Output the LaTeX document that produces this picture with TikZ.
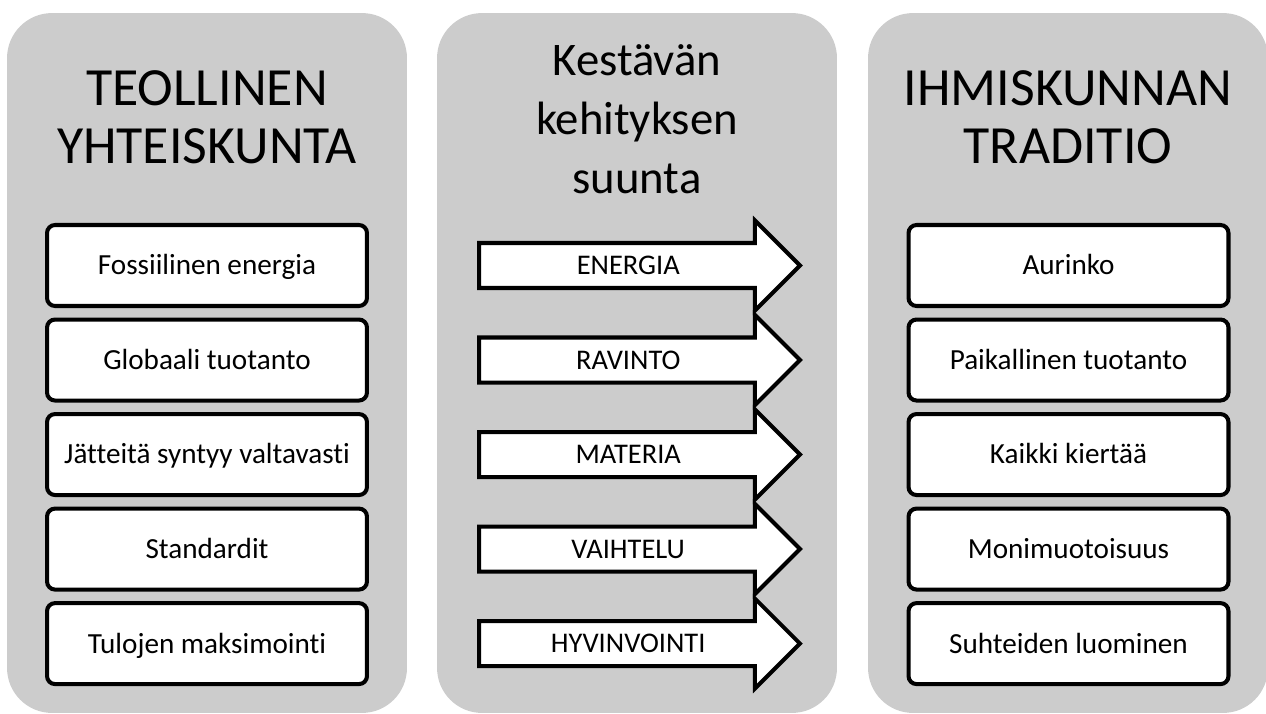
\documentclass[tikz,border=0pt]{standalone}
\usepackage{fontspec}
\setmainfont[Ligatures=NoCommon]{Carlito}
\usetikzlibrary{positioning, shapes.arrows}

\begin{document}
\begin{tikzpicture}
    [x=0.02cm, y=-0.02cm, node distance=0.19cm and 1cm,
    panel/.style={rectangle, fill=panelgray, rounded corners=0.9cm, minimum width=8cm, minimum height=14cm, inner sep=0pt},
    head/.style={align=center, anchor=base, inner sep=0pt},
    box/.style={rectangle, draw, fill=white, line width=2.3pt, rounded corners=0.16cm, minimum width=6.4cm, minimum height=1.62cm, text height=12.5pt, text depth=1.8pt, font=\fontsize{16.6}{19}\selectfont},
    dir/.style={single arrow, draw, fill=white, line width=2.3pt, single arrow head extend=0.45cm, single arrow tip angle=90, minimum height=6.42cm, text height=0.59cm, text depth=0.23cm, inner ysep=0pt, inner xsep=2pt, anchor=tail, font=\fontsize{16.2}{19}\selectfont}]
    \definecolor{panelgray}{RGB}{204,204,204};
    \useasboundingbox (0,0) rectangle (1266,713);
    % panels
    \node [panel] (Industrial) at (207,363) {};
    \node [panel] (Direction) at (637,363) {};
    \node [panel] (Tradition) at (1068,363) {};
    \node [head, font=\fontsize{30.6}{33}\selectfont] (IndTitle) at (207,163) {TEOLLINEN\\YHTEISKUNTA};
    \node [head, font=\fontsize{26.6}{33.4}\selectfont] (DirTitle) at (637,193) {Kestävän\\kehityksen\\suunta};
    \node [head, font=\fontsize{30.6}{33}\selectfont] (TradTitle) at (1068,163) {IHMISKUNNAN\\TRADITIO};
    % left column
    \node [box] (Fossil) at (207,265.5) {Fossiilinen energia};
    \node [box, below=of Fossil] (Global) {Globaali tuotanto};
    \node [box, below=of Global] (Waste) {Jätteitä syntyy valtavasti};
    \node [box, below=of Waste] (Standard) {Standardit};
    \node [box, below=of Standard] (Income) {Tulojen maksimointi};
    % right column
    \node [box] (Sun) at (1068.5,265.5) {Aurinko};
    \node [box, below=of Sun] (Local) {Paikallinen tuotanto};
    \node [box, below=of Local] (Cycle) {Kaikki kiertää};
    \node [box, below=of Cycle] (Diverse) {Monimuotoisuus};
    \node [box, below=of Diverse] (Relations) {Suhteiden luominen};
    % arrows
    \node [dir] (Energy) at (477,0 |- Fossil) {ENERGIA};
    \node [dir] (Food) at (477,0 |- Global) {RAVINTO};
    \node [dir] (Matter) at (477,0 |- Waste) {MATERIA};
    \node [dir] (Variety) at (477,0 |- Standard) {VAIHTELU};
    \node [dir] (Wellbeing) at (477,0 |- Income) {HYVINVOINTI};
\end{tikzpicture}
\end{document}
